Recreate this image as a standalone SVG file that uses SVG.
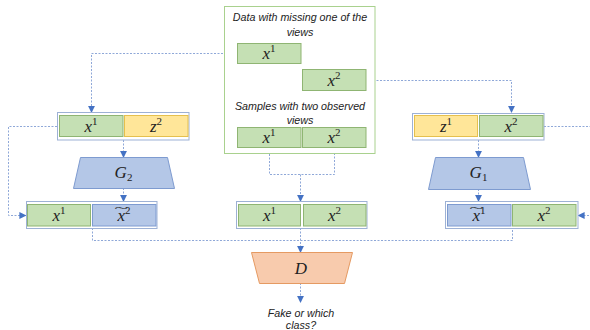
<svg xmlns="http://www.w3.org/2000/svg" width="590" height="330" viewBox="0 0 590 330">
<style>
.grp{fill:#fff;stroke:#9DB1D5;stroke-width:1}
.g{fill:#C5E0B4;stroke:#8FB573;stroke-width:1}
.y{fill:#FFE699;stroke:#E5C04E;stroke-width:1}
.b{fill:#B4C7E7;stroke:#7E9BD0;stroke-width:1}
.d{fill:#F8CBAD;stroke:#E59A62;stroke-width:1}
.frame{fill:#fff;stroke:#A9D18E;stroke-width:1}
.m{font-family:"Liberation Serif",serif;font-style:italic;font-size:17px;fill:#222;text-anchor:middle}
.s{font-style:normal;font-size:11px}
.t{font-family:"Liberation Serif",serif;font-size:11px;fill:#222;text-anchor:middle}
.lbl{font-family:"Liberation Sans",Arial,sans-serif;font-style:italic;font-size:10.7px;fill:#222;text-anchor:middle}
.c{fill:none;stroke:#8FA8D8;stroke-width:1;stroke-dasharray:2 1.5}
</style>
<defs>
<marker id="ah" viewBox="0 0 8 8" refX="7" refY="4" markerWidth="7" markerHeight="7" markerUnits="userSpaceOnUse" orient="auto">
<path d="M0,0 L8,4 L0,8 z" fill="#4472C4"/>
</marker>
</defs>

<g id="connectors">
<path class="c" d="M237,53.5 H91.5 V112" marker-end="url(#ah)"/>
<path class="c" d="M366,80.5 H511.5 V112" marker-end="url(#ah)"/>
<path class="c" d="M57,126.5 H8.5 V215.5 H25.5" marker-end="url(#ah)"/>
<path class="c" d="M544,126.5 H592 V215.5 H578.5" marker-end="url(#ah)"/>
<path class="c" d="M123.5,140 V157" marker-end="url(#ah)"/>
<path class="c" d="M123.5,188 V201" marker-end="url(#ah)"/>
<path class="c" d="M478.5,140 V157" marker-end="url(#ah)"/>
<path class="c" d="M478.5,189 V201" marker-end="url(#ah)"/>
<path class="c" d="M269.5,147 V174.5 H334.5 V147"/>
<path class="c" d="M300.5,174.5 V201" marker-end="url(#ah)"/>
<path class="c" d="M92.5,228 V240.5 H512.5 V228"/>
<path class="c" d="M300.5,228 V252" marker-end="url(#ah)"/>
<path class="c" d="M300.5,283 V302" marker-end="url(#ah)"/>
</g>

<g id="data-box">
<rect class="frame" x="224.5" y="6.5" width="150.5" height="147"/>
<text class="lbl" x="300" y="21">Data with missing one of the</text>
<text class="lbl" x="300" y="36">views</text>
<rect class="g" x="237.5" y="43.5" width="63.5" height="20"/>
<text class="m" x="269" y="59">x<tspan class="s" dy="-7">1</tspan></text>
<rect class="g" x="302.5" y="69.5" width="63.5" height="21"/>
<text class="m" x="334" y="85.5">x<tspan class="s" dy="-7">2</tspan></text>
<text class="lbl" x="300" y="109.5">Samples with two observed</text>
<text class="lbl" x="300" y="123.5">views</text>
<rect class="g" x="237.5" y="127.5" width="63.5" height="20"/>
<text class="m" x="269" y="143">x<tspan class="s" dy="-7">1</tspan></text>
<rect class="g" x="302.5" y="127.5" width="63.5" height="20"/>
<text class="m" x="334" y="143">x<tspan class="s" dy="-7">2</tspan></text>
</g>

<g id="left-input">
<rect class="grp" x="57.5" y="112.5" width="131.5" height="27.5"/>
<rect class="g" x="59.5" y="115.5" width="63.5" height="21"/>
<text class="m" x="91" y="131.5">x<tspan class="s" dy="-7">1</tspan></text>
<rect class="y" x="124.5" y="115.5" width="63.5" height="21"/>
<text class="m" x="156" y="131.5">z<tspan class="s" dy="-7">2</tspan></text>
</g>

<g id="G2">
<polygon class="b" points="80.5,157.5 167.5,157.5 174.5,188.5 73.5,188.5"/>
<text class="m" x="123.5" y="178">G<tspan class="s" dy="3">2</tspan></text>
</g>

<g id="left-output">
<rect class="grp" x="26.5" y="201.5" width="130.5" height="27"/>
<rect class="g" x="27.5" y="204.5" width="63" height="21.5"/>
<text class="m" x="59" y="220.5">x<tspan class="s" dy="-7">1</tspan></text>
<rect class="b" x="92.5" y="204.5" width="63.5" height="21.5"/>
<text class="m" x="124" y="221">x<tspan class="s" dy="-7">2</tspan></text>
<text class="t" transform="translate(121.5,211) scale(2.4,0.9)" x="0" y="0">~</text>
</g>

<g id="right-input">
<rect class="grp" x="412.5" y="113.5" width="131.5" height="26.5"/>
<rect class="y" x="414.5" y="115.5" width="63" height="21"/>
<text class="m" x="446" y="131.5">z<tspan class="s" dy="-7">1</tspan></text>
<rect class="g" x="479.5" y="115.5" width="63.5" height="21"/>
<text class="m" x="511" y="131.5">x<tspan class="s" dy="-7">2</tspan></text>
</g>

<g id="G1">
<polygon class="b" points="435.5,157.5 523.5,157.5 530.5,189.5 428.5,189.5"/>
<text class="m" x="478.5" y="178">G<tspan class="s" dy="3">1</tspan></text>
</g>

<g id="right-output">
<rect class="grp" x="445.5" y="201.5" width="132.5" height="27"/>
<rect class="b" x="447.5" y="204.5" width="63.5" height="21.5"/>
<text class="m" x="479" y="221">x<tspan class="s" dy="-7">1</tspan></text>
<text class="t" transform="translate(476.5,211) scale(2.4,0.9)" x="0" y="0">~</text>
<rect class="g" x="512.5" y="204.5" width="63.5" height="21.5"/>
<text class="m" x="544" y="220.5">x<tspan class="s" dy="-7">2</tspan></text>
</g>

<g id="real-pair">
<rect class="grp" x="236.5" y="201.5" width="130.5" height="27"/>
<rect class="g" x="238.5" y="204.5" width="62" height="21.5"/>
<text class="m" x="269.5" y="220.5">x<tspan class="s" dy="-7">1</tspan></text>
<rect class="g" x="303.5" y="204.5" width="62.5" height="21.5"/>
<text class="m" x="334.5" y="220.5">x<tspan class="s" dy="-7">2</tspan></text>
</g>

<g id="D">
<polygon class="d" points="251.5,252.5 352.5,252.5 344.5,283.5 259.5,283.5"/>
<text class="m" x="301" y="274">D</text>
</g>

<g id="output-label">
<text class="lbl" x="301" y="317">Fake or which</text>
<text class="lbl" x="301" y="329">class?</text>
</g>
</svg>
